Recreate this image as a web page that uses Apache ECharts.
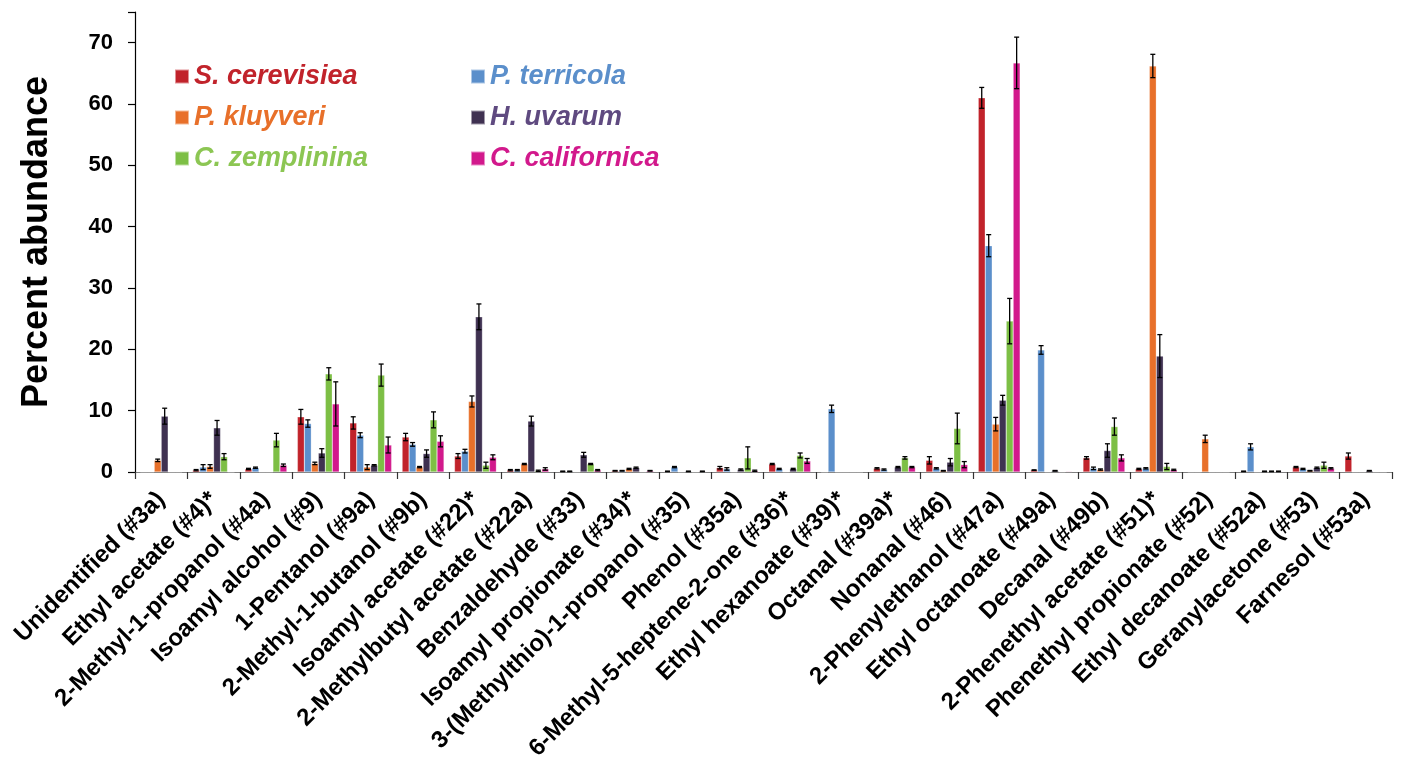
<!DOCTYPE html>
<html>
<head>
<meta charset="utf-8">
<script src="https://cdn.jsdelivr.net/npm/echarts@6/dist/echarts.min.js"></script>
<style>
html,body{margin:0;padding:0;background:#fff;}
#chart{width:1403px;height:770px;}
</style>
</head>
<body>
<div id="chart"></div>
<script>
const categories = [
  'Unidentified (#3a)', 'Ethyl acetate (#4)*', '2-Methyl-1-propanol (#4a)', 'Isoamyl alcohol (#9)',
  '1-Pentanol (#9a)', '2-Methyl-1-butanol (#9b)', 'Isoamyl acetate (#22)*', '2-Methylbutyl acetate (#22a)',
  'Benzaldehyde (#33)', 'Isoamyl propionate (#34)*', '3-(Methylthio)-1-propanol (#35)', 'Phenol (#35a)',
  '6-Methyl-5-heptene-2-one (#36)*', 'Ethyl hexanoate (#39)*', 'Octanal (#39a)*', 'Nonanal (#46)',
  '2-Phenylethanol (#47a)', 'Ethyl octanoate (#49a)', 'Decanal (#49b)', '2-Phenethyl acetate (#51)*',
  'Phenethyl propionate (#52)', 'Ethyl decanoate (#52a)', 'Geranylacetone (#53)', 'Farnesol (#53a)'
];
const seriesNames = ['S. cerevisiea', 'P. terricola', 'P. kluyveri', 'H. uvarum', 'C. zemplinina', 'C. californica'];

const sCerevisiea   = [0, 0.3, 0.5, 9.0, 8.0, 5.7, 2.6, 0.3, 0.1, 0.2, 0.1, 0.7, 1.3, 0, 0.6, 1.9, 61.0, 0.3, 2.3, 0.5, 0, 0.1, 0.8, 2.6];
const pTerricola    = [0, 0.8, 0.7, 7.9, 6.0, 4.5, 3.4, 0.3, 0.1, 0.2, 0.8, 0.5, 0.5, 10.3, 0.4, 0.6, 36.9, 19.9, 0.6, 0.6, 0, 4.1, 0.5, 0];
const pKluyveri     = [1.9, 0.9, 0, 1.4, 0.8, 0.8, 11.5, 1.3, 0, 0.5, 0, 0, 0, 0, 0, 0.2, 7.8, 0, 0.4, 66.2, 5.4, 0, 0.2, 0];
const hUvarum       = [9.1, 7.2, 0, 3.1, 1.1, 3.0, 25.3, 8.3, 2.8, 0.7, 0.1, 0.4, 0.5, 0, 0.8, 1.6, 11.7, 0.2, 3.5, 18.9, 0, 0.1, 0.7, 0.2];
const cZemplinina   = [0, 2.5, 5.2, 16.0, 15.8, 8.5, 1.1, 0.2, 1.3, 0, 0, 2.3, 2.7, 0, 2.3, 7.1, 24.6, 0, 7.4, 0.9, 0, 0.1, 1.1, 0];
const cCalifornica  = [0, 0, 1.1, 11.1, 4.4, 5.0, 2.4, 0.5, 0.3, 0.2, 0.1, 0.2, 1.8, 0, 0.8, 1.2, 66.7, 0.1, 2.3, 0.35, 0, 0.1, 0.6, 0];

const errCerevisiea  = [0, 0.1, 0.1, 1.2, 1.0, 0.6, 0.4, 0.1, 0.05, 0.05, 0.05, 0.2, 0.1, 0, 0.1, 0.6, 1.7, 0.05, 0.2, 0.1, 0, 0.05, 0.1, 0.5];
const errTerricola   = [0, 0.4, 0.1, 0.6, 0.4, 0.3, 0.3, 0.1, 0.05, 0.05, 0.1, 0.2, 0.1, 0.6, 0.1, 0.1, 1.8, 0.7, 0.2, 0.1, 0, 0.5, 0.1, 0];
const errKluyveri    = [0.2, 0.3, 0, 0.2, 0.4, 0.1, 0.9, 0.1, 0, 0.1, 0, 0, 0, 0, 0, 0.05, 1.1, 0, 0.1, 1.9, 0.6, 0, 0.05, 0];
const errUvarum      = [1.3, 1.2, 0, 0.7, 0.1, 0.6, 2.1, 0.8, 0.4, 0.1, 0.05, 0.1, 0.1, 0, 0.1, 0.6, 0.8, 0.05, 1.1, 3.5, 0, 0.05, 0.1, 0.05];
const errZemplinina  = [0, 0.5, 1.1, 1.0, 1.8, 1.3, 0.5, 0.1, 0.1, 0, 0, 1.8, 0.4, 0, 0.2, 2.5, 3.7, 0, 1.4, 0.5, 0, 0.05, 0.5, 0];
const errCalifornica = [0, 0, 0.2, 3.6, 1.3, 0.9, 0.4, 0.2, 0.1, 0.05, 0.05, 0.1, 0.4, 0, 0.1, 0.5, 4.2, 0, 0.5, 0.1, 0, 0.05, 0.1, 0];

const yTicks = [0, 10, 20, 30, 40, 50, 60, 70];

const barColors  = ['#C1232B', '#5B8FCB', '#E8702A', '#3F3151', '#7DBF45', '#D2198C'];
const textColors = ['#C1232B', '#5B8FCB', '#E8702A', '#5F4A80', '#8CC653', '#D2198C'];

const values = [sCerevisiea, pTerricola, pKluyveri, hUvarum, cZemplinina, cCalifornica];
const errors = [errCerevisiea, errTerricola, errKluyveri, errUvarum, errZemplinina, errCalifornica];

const FONT = '"Liberation Sans", Arial, sans-serif';
const CAT_GAP = 0.2;

const series = [];
seriesNames.forEach((name, i) => {
  series.push({
    name: name,
    type: 'bar',
    data: values[i],
    barGap: '0%',
    barCategoryGap: (CAT_GAP * 100) + '%',
    itemStyle: { color: barColors[i], borderColor: 'rgba(255,255,255,0.5)', borderWidth: 0.5 },
    emphasis: { disabled: true },
    z: 2
  });
});
seriesNames.forEach((name, i) => {
  series.push({
    name: name + ' err',
    type: 'custom',
    z: 5,
    data: values[i].map((v, k) => [k, v, errors[i][k]]),
    encode: { x: 0, y: 1 },
    renderItem: function (params, api) {
      const ci = api.value(0), v = api.value(1), e = api.value(2);
      if (!(e > 0)) return null;
      const p = api.coord([ci, v]);
      const bandW = api.size([1, 0])[0];
      const bw = bandW * (1 - CAT_GAP) / 6;
      const x = p[0] + (i - 2.5) * bw;
      const top = api.coord([ci, v + e])[1];
      const bot = api.coord([ci, Math.max(v - e, 0)])[1];
      const cap = 2.5;
      const st = { stroke: '#000', lineWidth: 1.3 };
      return {
        type: 'group',
        children: [
          { type: 'line', shape: { x1: x, y1: top, x2: x, y2: bot }, style: st },
          { type: 'line', shape: { x1: x - cap, y1: top, x2: x + cap, y2: top }, style: st },
          { type: 'line', shape: { x1: x - cap, y1: bot, x2: x + cap, y2: bot }, style: st }
        ]
      };
    }
  });
});

const legendText = { fontFamily: FONT, fontWeight: 'bold', fontStyle: 'italic', fontSize: 27 };
function legendData(idx) {
  return idx.map(i => ({ name: seriesNames[i], textStyle: Object.assign({}, legendText, { color: textColors[i] }) }));
}

const chart = echarts.init(document.getElementById('chart'), null, { renderer: 'canvas' });
chart.setOption({
  animation: false,
  backgroundColor: '#fff',
  grid: { left: 135, right: 11, top: 12, bottom: 298, containLabel: false },
  legend: [
    { orient: 'vertical', left: 169, top: 58, itemWidth: 14, itemHeight: 14, itemGap: 14, icon: 'rect',
      selectedMode: false, textStyle: legendText, data: legendData([0, 2, 4]) },
    { orient: 'vertical', left: 465, top: 58, itemWidth: 14, itemHeight: 14, itemGap: 14, icon: 'rect',
      selectedMode: false, textStyle: legendText, data: legendData([1, 3, 5]) }
  ],
  xAxis: {
    type: 'category',
    data: categories,
    axisLine: { lineStyle: { color: '#7f7f7f', width: 1.2 } },
    axisTick: { show: true, alignWithLabel: false, length: 7, lineStyle: { color: '#333', width: 1.2 } },
    axisLabel: {
      interval: 0, rotate: 45, margin: 24,
      fontFamily: FONT, fontWeight: 'bold', fontSize: 24, color: '#000'
    },
    splitLine: { show: false }
  },
  yAxis: {
    type: 'value',
    min: 0, max: 75, interval: 10,
    name: 'Percent abundance',
    nameLocation: 'middle',
    nameGap: 80,
    nameTextStyle: { fontFamily: FONT, fontWeight: 'bold', fontSize: 36, color: '#000' },
    axisLine: { show: true, lineStyle: { color: '#000', width: 1.2 } },
    axisTick: { show: true, length: 7, lineStyle: { color: '#000', width: 1.2 } },
    axisLabel: {
      fontFamily: FONT, fontWeight: 'bold', fontSize: 22, color: '#000', margin: 22,
      formatter: function (v) { return yTicks.indexOf(v) >= 0 ? String(v) : ''; }
    },
    splitLine: { show: false }
  },
  series: series
});
</script>
</body>
</html>
